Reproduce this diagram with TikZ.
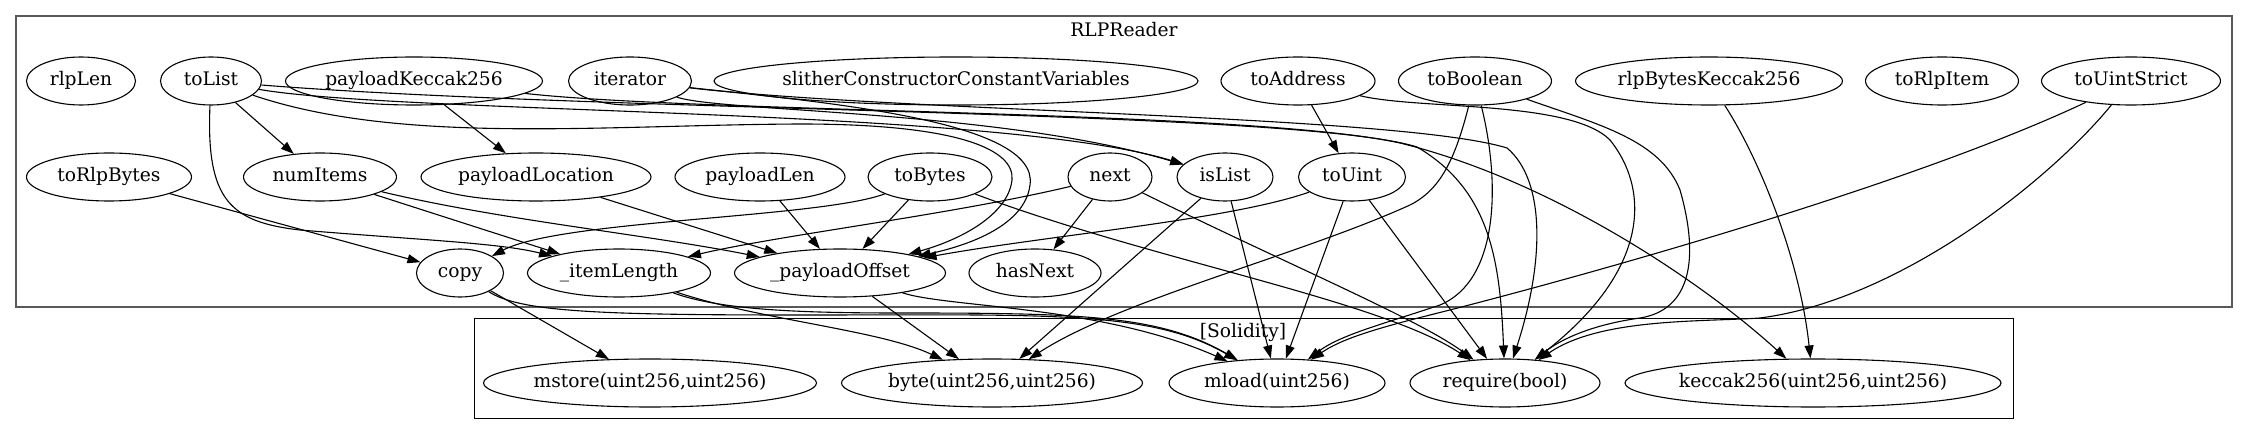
\documentclass[tikz,border=0pt]{standalone}
\usepackage{fontspec}
\setmainfont{DejaVu Serif}
\usetikzlibrary{arrows.meta,shapes.geometric}
\newcommand{\lbl}[1]{\makebox[0pt]{#1}}

\begin{document}
\begin{tikzpicture}[x=1pt, y=-1pt,
    every node/.style={font=\fontsize{18.67}{22}\selectfont},
    fn/.style={ellipse, draw, line width=1.1pt, inner sep=0pt,
        minimum height=48, text height=14pt, text depth=4pt},
    call/.style={line width=1.1pt, -{Triangle[length=13pt,width=9pt]}},
    cluster/.style={draw=#1, line width=1.6pt}]
    \useasboundingbox (0,0) rectangle (2248,435);

    % CLUSTERS
    \draw[cluster=black!65] (16,16) rectangle (2232,307);
    \node (rlpTitle) at (1124,30) {RLPReader};
    \draw[cluster=black, line width=0.9pt] (474,318) rectangle (2013,418);
    \node (solTitle) at (1243,332) {[Solidity]};

    % Row 1
    \node[fn, minimum width=109] (rlpLen) at (81,81) {\lbl{rlpLen}};
    \node[fn, minimum width=101] (toList) at (211,81) {\lbl{toList}};
    \node[fn, minimum width=257] (payloadKeccak) at (414,81) {\lbl{payloadKeccak256}};
    \node[fn, minimum width=123] (iterator) at (630,81) {\lbl{iterator}};
    \node[fn, minimum width=484] (slither) at (956,81) {\lbl{slitherConstructorConstantVariables}};
    \node[fn, minimum width=154] (toAddress) at (1298,81) {\lbl{toAddress}};
    \node[fn, minimum width=153] (toBoolean) at (1475,81) {\lbl{toBoolean}};
    \node[fn, minimum width=267] (rlpBytesKeccak) at (1709,81) {\lbl{rlpBytesKeccak256}};
    \node[fn, minimum width=153] (toRlpItem) at (1942,81) {\lbl{toRlpItem}};
    \node[fn, minimum width=179] (toUintStrict) at (2131,81) {\lbl{toUintStrict}};

    % Row 2
    \node[fn, minimum width=165] (toRlpBytes) at (109,177) {\lbl{toRlpBytes}};
    \node[fn, minimum width=153] (numItems) at (320,177) {\lbl{numItems}};
    \node[fn, minimum width=230] (payloadLocation) at (536,177) {\lbl{payloadLocation}};
    \node[fn, minimum width=170] (payloadLen) at (760,177) {\lbl{payloadLen}};
    \node[fn, minimum width=124] (toBytes) at (930,177) {\lbl{toBytes}};
    \node[fn, minimum width=84] (next) at (1110,177) {\lbl{next}};
    \node[fn, minimum width=96] (isList) at (1225,177) {\lbl{isList}};
    \node[fn, minimum width=107] (toUint) at (1352,177) {\lbl{toUint}};

    % Row 3
    \node[fn, minimum width=87] (copy) at (460,273) {\lbl{copy}};
    \node[fn, minimum width=183] (itemLength) at (619,273) {\lbl{\_itemLength}};
    \node[fn, minimum width=211] (payloadOffset) at (840,273) {\lbl{\_payloadOffset}};
    \node[fn, minimum width=132] (hasNext) at (1035,273) {\lbl{hasNext}};

    % Solidity calls
    \node[fn, minimum width=333] (mstore) at (650,383) {\lbl{mstore(uint256,uint256)}};
    \node[fn, minimum width=301] (byte) at (992,383) {\lbl{byte(uint256,uint256)}};
    \node[fn, minimum width=216] (mload) at (1277,383) {\lbl{mload(uint256)}};
    \node[fn, minimum width=190] (require) at (1505,383) {\lbl{require(bool)}};
    \node[fn, minimum width=376] (keccak) at (1813,383) {\lbl{keccak256(uint256,uint256)}};

    % toList
    \draw[call] (toList) -- (numItems);
    \draw[call] (toList) .. controls (206,200) and (230,222) .. (300,230)
        .. controls (420,240) and (500,243) .. (itemLength);
    \draw[call] (toList) .. controls (400,114) and (1000,108) .. (isList);
    \draw[call] (toList) .. controls (400,145) and (600,125) .. (800,124)
        .. controls (960,124) and (1015,150) .. (1012,180)
        .. controls (1008,215) and (960,240) .. (payloadOffset);
    \draw[call] (toList) .. controls (600,112) and (1300,110) .. (1417,147)
        .. controls (1490,190) and (1500,260) .. (require);

    % payloadKeccak256, iterator
    \draw[call] (payloadKeccak) -- (payloadLocation);
    \draw[call] (payloadKeccak) .. controls (700,113) and (1250,110) .. (1400,143)
        .. controls (1550,180) and (1700,280) .. (keccak);
    \draw[call] (iterator) .. controls (720,112) and (1000,110) .. (isList);
    \draw[call] (iterator) .. controls (820,102) and (1040,120) .. (1030,185)
        .. controls (1025,225) and (970,245) .. (payloadOffset);
    \draw[call] (iterator) .. controls (900,112) and (1400,115) .. (1507,148)
        .. controls (1545,180) and (1545,260) .. (require);

    % Row 2 callers
    \draw[call] (toRlpBytes) -- (copy);
    \draw[call] (numItems) -- (itemLength);
    \draw[call] (numItems) .. controls (500,220) and (650,235) .. (payloadOffset);
    \draw[call] (payloadLocation) -- (payloadOffset);
    \draw[call] (payloadLen) -- (payloadOffset);
    \draw[call] (toBytes) -- (payloadOffset);
    \draw[call] (toBytes) .. controls (820,218) and (560,220) .. (copy);
    \draw[call] (toBytes) .. controls (1150,260) and (1380,300) .. (require);
    \draw[call] (next) .. controls (950,215) and (780,235) .. (itemLength);
    \draw[call] (next) -- (hasNext);
    \draw[call] (next) .. controls (1300,270) and (1420,320) .. (require);
    \draw[call] (isList) -- (byte);
    \draw[call] (isList) -- (mload);
    \draw[call] (toUint) .. controls (1230,220) and (1050,235) .. (payloadOffset);
    \draw[call] (toUint) -- (mload);
    \draw[call] (toUint) -- (require);

    % Row 1 right side
    \draw[call] (toAddress) -- (toUint);
    \draw[call] (toAddress) .. controls (1420,110) and (1570,100) .. (1610,140)
        .. controls (1650,190) and (1650,270) .. (require);
    \draw[call] (toBoolean) .. controls (1455,160) and (1440,190) .. (1410,205)
        .. controls (1300,255) and (1120,300) .. (byte);
    \draw[call] (toBoolean) .. controls (1500,180) and (1500,280) .. (1440,305)
        .. controls (1380,325) and (1340,335) .. (mload);
    \draw[call] (toBoolean) .. controls (1600,125) and (1660,140) .. (1680,190)
        .. controls (1700,260) and (1690,310) .. (1640,318)
        .. controls (1590,325) and (1560,340) .. (require);
    \draw[call] (rlpBytesKeccak) .. controls (1760,160) and (1800,260) .. (keccak);
    \draw[call] (toUintStrict) .. controls (1900,190) and (1550,285) .. (1430,315)
        .. controls (1370,330) and (1340,340) .. (mload);
    \draw[call] (toUintStrict) .. controls (2050,180) and (1900,300) .. (1760,318)
        .. controls (1700,322) and (1600,318) .. (require);

    % Row 3 callers
    \draw[call] (copy) -- (mstore);
    \draw[call] (copy) .. controls (520,312) and (600,315) .. (800,315)
        .. controls (1050,315) and (1150,310) .. (mload);
    \draw[call] (itemLength) .. controls (760,320) and (880,330) .. (byte);
    \draw[call] (itemLength) .. controls (720,310) and (800,313) .. (900,313)
        .. controls (1080,313) and (1160,315) .. (mload);
    \draw[call] (payloadOffset) -- (byte);
    \draw[call] (payloadOffset) .. controls (950,308) and (1100,305) .. (mload);
\end{tikzpicture}
\end{document}
